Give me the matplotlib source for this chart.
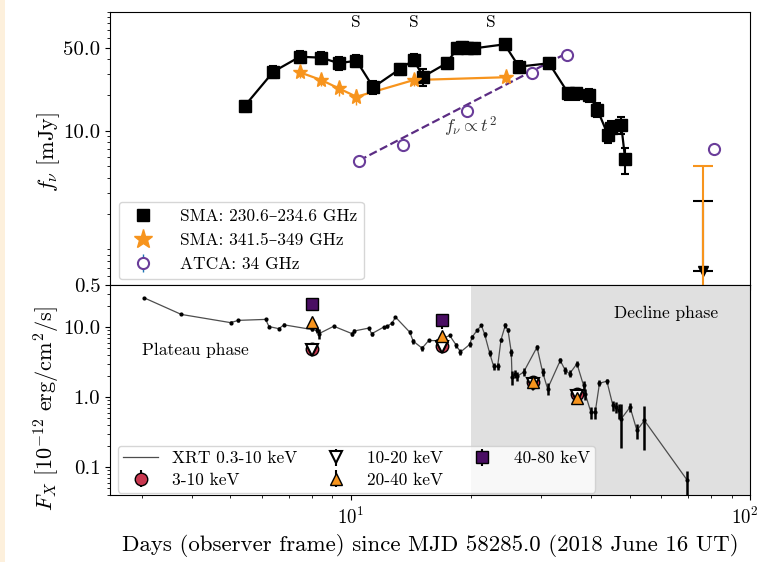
import numpy as np
import matplotlib
matplotlib.use("Agg")
import matplotlib.pyplot as plt
from matplotlib.lines import Line2D
from matplotlib.patches import Rectangle
from matplotlib.transforms import ScaledTranslation
from matplotlib.ticker import FixedLocator, FormatStrFormatter, LogLocator, NullFormatter

plt.rcParams['font.family'] = ['cmr10', 'DejaVu Serif']
plt.rcParams['mathtext.fontset'] = 'cm'
plt.rcParams['axes.formatter.use_mathtext'] = True

# --- top panel: mm / radio light curves (mJy) ---
sma230_days = [5.43, 6.41, 7.47, 8.45, 9.35, 10.35, 11.4, 13.3, 14.4, 15.2, 17.4,
               18.5, 19.0, 19.6, 20.4, 24.3, 26.4, 31.4, 35.1, 36.7, 39.5, 41.5,
               44.1, 44.9, 47.6, 48.7]
sma230_flux = [16.1, 31.4, 42.0, 41.2, 37.0, 38.9, 23.2, 33.1, 39.4, 28.5, 37.0,
               49.4, 51.0, 50.0, 49.4, 53.4, 34.6, 37.0, 20.6, 20.6, 20.0, 15.0,
               9.2, 10.5, 11.2, 5.75]
sma230_err = [1.8, 3.5, 4.5, 4.5, 4.5, 4.5, 3.0, 3.5, 4.5, 4.5, 4.0,
              5.0, 5.0, 5.0, 5.0, 5.0, 4.0, 4.0, 2.5, 2.5, 2.5, 2.0,
              1.4, 1.6, 1.8, 1.45]

sma345_days = [7.47, 8.45, 9.35, 10.35, 14.4, 24.5]
sma345_flux = [31.0, 26.7, 22.7, 19.3, 26.7, 28.2]
sma345_err = [3.0, 3.0, 3.0, 3.0, 3.0, 3.0]

atca_days = [10.5, 13.5, 19.6, 28.5, 34.8, 81.4]
atca_flux = [5.6, 7.6, 14.5, 30.8, 43.5, 6.98]
atca_err = [0.2, 0.2, 0.3, 0.4, 0.4, 0.3]

fit_days = [10.5, 34.8]
fit_flux = [5.6, 45.0]

# upper limits at late time (top value and where the arrow ends)
ul_days = [76.2]
ul230_flux = [2.57]
ul230_low = [0.65]
ul345_flux = [5.0]
ul345_low = [0.35]

s_days = [10.3, 14.4, 22.5]

# --- bottom panel: X-ray fluxes (1e-12 erg/cm2/s) ---
xrt_days = [3.04, 3.77, 5.01, 5.24, 6.13, 6.25, 6.62, 6.81, 7.99, 8.26, 8.33,
            9.08, 10.1, 10.2, 11.1, 11.3, 12.1, 12.35, 12.7, 12.96, 14.07, 14.35,
            15.11, 15.7, 16.5, 17.71, 18.41, 18.84, 19.88, 20.15, 20.74, 21.26,
            21.67, 22.3, 22.82, 23.35, 23.81, 24.4, 24.79, 25.26, 25.37, 25.75,
            26.11, 27.12, 29.3, 30.26, 31.14, 33.5, 34.48, 35.35, 36.88, 38.31,
            38.68, 39.97, 40.97, 42.0, 43.83, 45.37, 46.3, 46.9, 47.6, 50.1,
            52.1, 54.4, 69.7]
xrt_flux = [26.3, 15.2, 11.6, 12.5, 12.9, 10.2, 9.5, 10.8, 9.27, 8.97, 8.05,
            10.3, 8.05, 8.8, 9.68, 8.05, 10.0, 10.3, 11.4, 13.9, 8.48, 6.31,
            5.01, 6.45, 6.4, 7.6, 5.48, 4.4, 5.66, 7.2, 9.0, 10.6,
            7.87, 4.25, 2.75, 2.75, 6.61, 10.6, 9.0, 4.4, 1.93, 2.16,
            1.98, 2.28, 5.18, 2.28, 1.32, 3.34, 2.41, 2.16, 3.0, 1.47,
            1.12, 0.61, 0.61, 1.58, 1.69, 0.76, 0.72, 0.645, 0.49, 0.72,
            0.334, 0.465, 0.0646]
xrt_err = [0.8, 0.5, 0.6, 0.6, 0.5, 0.5, 0.5, 0.5, 0.5, 0.6, 1.3,
           0.5, 0.6, 0.6, 0.5, 0.6, 0.5, 0.5, 0.5, 0.6, 0.6, 0.5,
           0.4, 0.4, 0.4, 0.4, 0.4, 0.4, 0.4, 0.5, 0.5, 0.6,
           0.6, 0.4, 0.3, 0.3, 0.5, 0.8, 0.6, 0.5, 0.45, 0.3,
           0.3, 0.3, 0.4, 0.3, 0.25, 0.3, 0.25, 0.25, 0.3, 0.25,
           0.2, 0.12, 0.12, 0.15, 0.15, 0.12, 0.12, 0.15, 0.3, 0.1,
           0.08, 0.29, 0.024]

nustar_days = [7.99, 16.9, 28.6, 36.9]
flux_3_10 = [4.95, 5.4, 1.62, 1.12]
flux_10_20 = [4.64, 5.2, 1.52, 1.04]
flux_20_40 = [11.8, 7.4, 1.67, 0.97]
err_3_10 = [0.3, 0.3, 0.08, 0.06]
err_10_20 = [0.4, 0.4, 0.1, 0.08]
err_20_40 = [1.2, 0.8, 0.2, 0.12]
hard_days = [7.99, 16.9]
flux_40_80 = [21.1, 12.5]
err_40_80 = [3.0, 3.0]

orange = '#f7941d'
purple = '#6a3d9a'

fig = plt.figure(figsize=(7.62, 5.62), dpi=100)
fig.patches.append(Rectangle((0, 0), 5 / 762, 1, transform=fig.transFigure,
                             facecolor='#fdf0dc', edgecolor='none', zorder=-5))

ax1 = fig.add_axes([110 / 762, 1 - 285 / 562, 640 / 762, 273 / 562])
ax2 = fig.add_axes([110 / 762, 1 - 495 / 562, 640 / 762, 210 / 562], sharex=ax1)

# top panel
ax1.plot(sma230_days, sma230_flux, color='k', lw=1.6, zorder=3)
ax1.errorbar(sma230_days, sma230_flux, yerr=sma230_err, fmt='s', color='k', ms=8,
             elinewidth=1.5, capsize=3, capthick=1.5, zorder=4)
ax1.plot(sma345_days, sma345_flux, color=orange, lw=1.6, zorder=3)
ax1.errorbar(sma345_days, sma345_flux, yerr=sma345_err, fmt='*', color=orange,
             ms=11, elinewidth=1, capsize=0, zorder=4)
ax1.plot(fit_days, fit_flux, color='#5b2c83', lw=1.6, ls='--', zorder=2)
ax1.errorbar(atca_days, atca_flux, yerr=atca_err, fmt='o', mfc='white', mec=purple,
             mew=1.5, ms=8, ecolor='tab:blue', elinewidth=1, capsize=0, zorder=3)

# late-time upper limits: bar from the limit down to an arrow
ul230_len = [f - lo for f, lo in zip(ul230_flux, ul230_low)]
ul345_len = [f - lo for f, lo in zip(ul345_flux, ul345_low)]
ax1.errorbar(ul_days, ul230_flux, yerr=[ul230_len, [0]], fmt='none', ecolor='k',
             elinewidth=1.5, capsize=7, capthick=1.5, zorder=4)
ax1.plot(ul_days, ul230_low, ls='none', marker='v', color='k', ms=7, zorder=4)
ax1.errorbar(ul_days, ul345_flux, yerr=[ul345_len, [0]], fmt='none', ecolor=orange,
             elinewidth=1.5, capsize=7, capthick=1.5, zorder=5)

for d in s_days:
    ax1.text(d, 82, 'S', ha='center', va='center', fontsize=12.5)
ax1.text(17.1, 10.8, r'$f_\nu \propto t^2$', ha='left', va='center', fontsize=13,
         color='#333333')

ax1.set_xscale('log')
ax1.set_yscale('log')
ax1.set_xlim(2.5, 100)
ax1.set_ylim(0.5, 100)
ax1.yaxis.set_major_locator(FixedLocator([0.5, 10, 50]))
ax1.yaxis.set_major_formatter(FormatStrFormatter('%.1f'))
ax1.yaxis.set_minor_locator(LogLocator(base=10, subs=np.arange(1, 10), numticks=20))
ax1.yaxis.set_minor_formatter(NullFormatter())
ax1.tick_params(axis='x', which='both', labelbottom=False)
ax1.tick_params(labelsize=15)
ax1.set_ylabel(r'$f_\nu\ [\mathrm{mJy}]$', fontsize=16)
ax1.yaxis.set_label_coords(-0.075, 0.485)

h1 = [Line2D([], [], marker='s', ls='none', color='k', ms=8),
      Line2D([], [], marker='*', ls='none', color=orange, ms=14)]
atca_handle = ax1.errorbar([], [], yerr=[], fmt='o', mfc='white', mec=purple, mew=1.5,
                           ms=8, ecolor='tab:blue', elinewidth=1)
ax1.legend(h1 + [atca_handle],
           ['SMA: 230.6–234.6 GHz', 'SMA: 341.5–349 GHz', 'ATCA: 34 GHz'],
           loc='lower left', fontsize=12.5, handletextpad=1.1,
           bbox_to_anchor=(0.014, 0.022), borderaxespad=0)

# bottom panel
ax2.axvspan(20, 100, facecolor='#e0e0e0', edgecolor='none', zorder=0)
ax2.plot(xrt_days, xrt_flux, color='0.3', lw=0.9, zorder=2)
ax2.errorbar(xrt_days, xrt_flux, yerr=xrt_err, fmt='.', color='k', ms=4,
             elinewidth=1.8, capsize=0, zorder=3)
e1 = ax2.errorbar(nustar_days, flux_3_10, yerr=err_3_10, fmt='o', mfc='#c8374f',
                  mec='k', ecolor='k', ms=9, mew=1, zorder=4)
e2 = ax2.errorbar(nustar_days, flux_10_20, yerr=err_10_20, fmt='v', mfc='white',
                  mec='k', ecolor='k', ms=9, mew=1.5, zorder=5)
e3 = ax2.errorbar(nustar_days, flux_20_40, yerr=err_20_40, fmt='^', mfc=orange,
                  mec='k', ecolor='k', ms=9, mew=1, zorder=6)
e4 = ax2.errorbar(hard_days, flux_40_80, yerr=err_40_80, fmt='s', mfc='#4a0e63',
                  mec='k', ecolor='k', ms=9, mew=1, zorder=6)

ax2.text(3.0, 4.6, 'Plateau phase', ha='left', va='center', fontsize=12.5)
ax2.text(45.7, 15.7, 'Decline phase', ha='left', va='center', fontsize=12.5)

ax2.set_yscale('log')
ax2.set_ylim(0.04, 40)
ax2.yaxis.set_major_locator(FixedLocator([0.1, 1, 10]))
ax2.yaxis.set_major_formatter(FormatStrFormatter('%.1f'))
ax2.xaxis.set_minor_formatter(NullFormatter())
ax2.tick_params(axis='y', labelsize=15)
ax2.tick_params(axis='x', labelsize=13.5, pad=5)
ax2.set_ylabel(r'$F_X\ [10^{-12}\ \mathrm{erg/cm^2/s}]$', fontsize=16)
ax2.yaxis.set_label_coords(-0.075, 0.41)
ax2.set_xlabel('Days (observer frame) since MJD 58285.0 (2018 June 16 UT)', fontsize=16.5)

xrt_handle = Line2D([], [], color='0.3', lw=0.9)
ax2.legend([xrt_handle, e1, e2, e3, e4],
           ['XRT 0.3-10 keV', '3-10 keV', '10-20 keV', '20-40 keV', '40-80 keV'],
           loc='lower left', ncol=3, fontsize=12.5, columnspacing=1.25,
           handletextpad=0.8, borderpad=0.3, labelspacing=0.35,
           bbox_to_anchor=(0.0125, 0.01), borderaxespad=0)

# nudge the right-most tick label (10^2) left so it stays inside the figure
fig.canvas.draw()
last_tick = ax2.xaxis.get_major_ticks()[-1]
for tick in ax2.xaxis.get_major_ticks():
    if abs(tick.get_loc() - 100) < 1e-6:
        last_tick = tick
last_tick.label1.set_transform(last_tick.label1.get_transform()
                               + ScaledTranslation(-4 / 72, 0, fig.dpi_scale_trans))

fig.savefig('out.png', dpi=100)
